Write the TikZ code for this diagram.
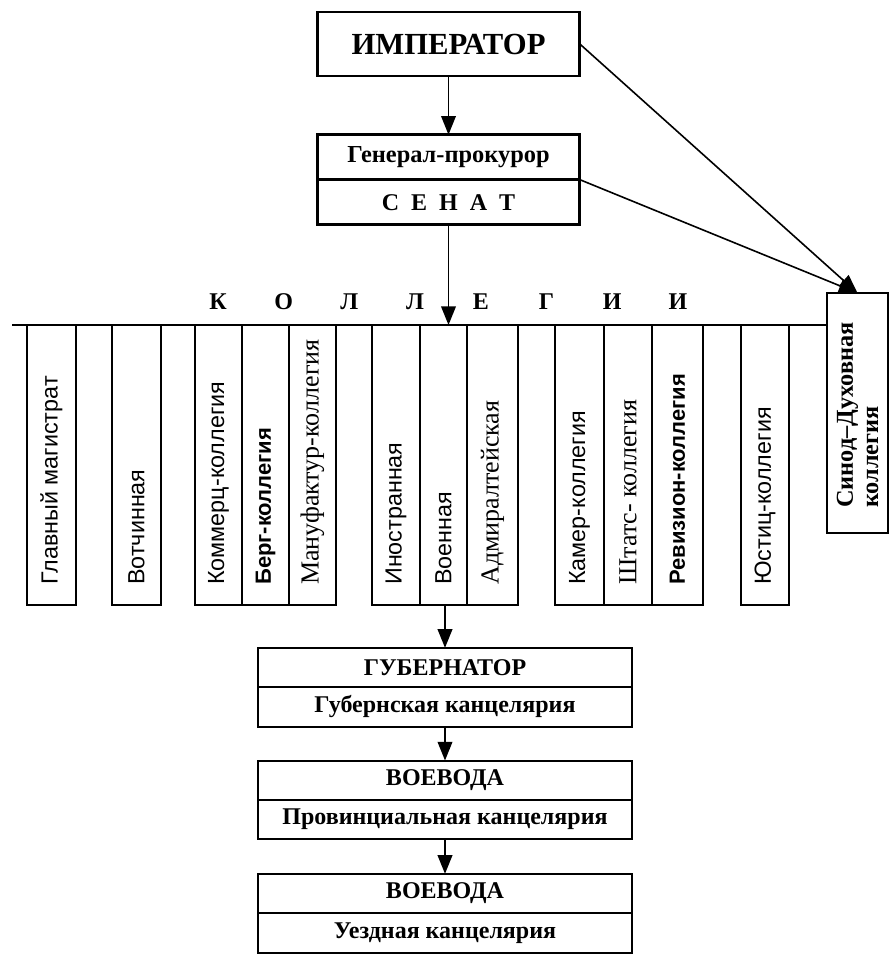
\documentclass[tikz,border=0pt]{standalone}
\usepackage{fontspec}
\setmainfont{Liberation Serif}
\setsansfont{Liberation Sans}
\usetikzlibrary{positioning,arrows.meta}
\tikzset{
    topbox/.style={rectangle, draw=black, line width=2.2pt, outer sep=0pt, minimum width=197pt, text centered},
    lowbox/.style={rectangle, draw=black, line width=1.5pt, outer sep=0pt, minimum width=280pt, minimum height=29.5pt, text centered, font=\bfseries\fontsize{18}{20}\selectfont},
    subbox/.style={lowbox, font=\bfseries\fontsize{18}{20}\selectfont},
    colbox/.style={rectangle, draw=black, line width=1.5pt, outer sep=0pt, inner sep=0pt, anchor=north, minimum height=210pt},
    coltext/.style={rotate=90, anchor=west, inner sep=0pt, font=\sffamily\fontsize{17.5}{19}\selectfont},
    coltexts/.style={coltext, font=\rmfamily\fontsize{19.5}{21}\selectfont},
    coltextb/.style={coltext, font=\sffamily\bfseries\fontsize{16.5}{19}\selectfont},
    letter/.style={font=\bfseries\fontsize{18}{20}\selectfont},
    conn/.style={-{Triangle[length=14pt,width=11pt]}, line width=1.2pt},
}

\begin{document}
\begin{tikzpicture}[x=0.75pt, y=-0.75pt]
    \useasboundingbox (0,0) rectangle (890,954);

    % Emperor and senate
    \node[topbox, minimum height=48pt, font=\bfseries\fontsize{23}{25}\selectfont] (imp) at (448.5,44) {ИМПЕРАТОР};
    \node[topbox, minimum height=33.75pt, below=44pt of imp, font=\bfseries\fontsize{18.3}{20}\selectfont] (prok) {Генерал-прокурор};
    \node[topbox, minimum height=33.75pt, below=0pt of prok, font=\bfseries\fontsize{18}{20}\selectfont] (sen) {С\hspace{.5em}Е\hspace{.5em}Н\hspace{.5em}А\hspace{.5em}Т};

    % Synod
    \node[colbox, minimum width=45.75pt, minimum height=180pt] (synod) at (857.5,293) {};
    \node[coltext, align=left, font=\bfseries\fontsize{18.2}{19}\selectfont] (synod-t) at ([yshift=18.75pt]synod.south) {Синод–Духовная\\коллегия};

    % Line of the colleges
    \coordinate (lleft) at (12,325);
    \coordinate (hit) at (sen.south |- lleft);
    \draw[line width=2.2pt] (lleft) -- (lleft -| synod.west);
    \foreach \l [count=\i] in {К,О,Л,Л,Е,Г,И,И}
        \node[letter] (kol\i) at (218+65.7*\i-65.7,302) {\l};

    % The colleges
    \foreach \nm/\cx/\w/\st/\txt in {
        glav/51.5/36.75/coltext/Главный магистрат,
        votch/136.5/36.75/coltext/Вотчинная,
        kommerz/218.5/35.25/coltext/Коммерц-коллегия,
        berg/265.5/35.25/coltextb/Берг-коллегия,
        manuf/312.5/35.25/coltexts/Мануфактур-коллегия,
        inostr/396/36/coltext/Иностранная,
        voen/443.5/35.25/coltext/Военная,
        admir/492.5/38.25/coltexts/Адмиралтейская,
        kamer/579.5/36.75/coltext/Камер-коллегия,
        shtats/628/36/coltexts/Штатс- коллегия,
        reviz/677.5/38.25/coltextb/Ревизион-коллегия,
        justiz/765/36/coltext/Юстиц-коллегия}
    {
        \node[colbox, minimum width=\w pt] (\nm) at (\cx,325) {};
        \node[\st] (\nm-t) at ([yshift=15pt]\nm.south) {\txt};
    }

    % Local government
    \node[lowbox] (gub) at (445,667.5) {ГУБЕРНАТОР};
    \node[subbox, below=0pt of gub] (gubk) {Губернская канцелярия};
    \node[lowbox, below=25.5pt of gubk] (voev1) {ВОЕВОДА};
    \node[subbox, below=0pt of voev1] (provk) {Провинциальная канцелярия};
    \node[lowbox, below=26pt of provk] (voev2) {ВОЕВОДА};
    \node[subbox, below=0pt of voev2] (uezdk) {Уездная канцелярия};

    % Arrows
    \draw[conn] (imp) -- (prok);
    \draw[conn] (sen) -- (hit);
    \draw[conn] (imp.east) -- (synod.north);
    \draw[conn] (prok.south east) -- (synod.north);
    \draw[conn] (gub.north |- voen.south) -- (gub.north);
    \draw[conn] (gubk) -- (voev1);
    \draw[conn] (provk) -- (voev2);
\end{tikzpicture}
\end{document}
